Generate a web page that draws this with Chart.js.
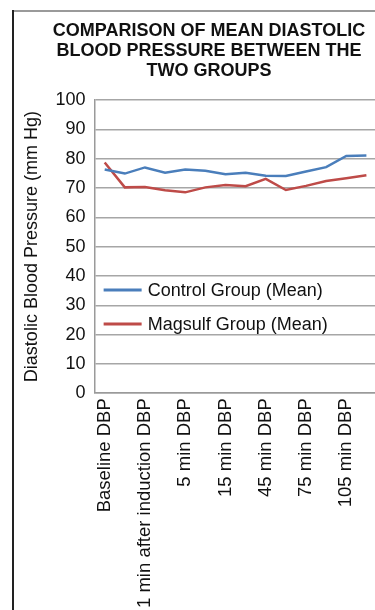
<!DOCTYPE html>
<html>
<head>
<meta charset="utf-8">
<script src="https://cdn.jsdelivr.net/npm/chart.js@4/dist/chart.umd.min.js"></script>
<style>
  html, body { margin: 0; padding: 0; background: #fff; overflow: hidden; }
  /* the original figure is cropped on the right, so the canvas is wider than the window */
  #wrap { position: relative; width: 375px; height: 610px; overflow: hidden; }
</style>
</head>
<body>
<div id="wrap"><canvas id="myChart" width="406" height="610"></canvas></div>
<script>
  // categories (only every other one gets a visible label, like the original)
  const categories = [
    'Baseline DBP', 'After induction DBP', '1 min after induction DBP', '3 min DBP',
    '5 min DBP', '10 min DBP', '15 min DBP', '30 min DBP', '45 min DBP',
    '60 min DBP', '75 min DBP', '90 min DBP', '105 min DBP', '120 min DBP'
  ];

  // series values
  const controlMean = [76.3, 74.9, 77.0, 75.2, 76.3, 75.9, 74.7, 75.2, 74.2, 74.1, 75.6, 77.1, 80.9, 81.1];
  const magsulfMean = [78.7, 70.2, 70.3, 69.2, 68.5, 70.2, 71.0, 70.6, 73.1, 69.3, 70.7, 72.4, 73.3, 74.3];

  const seriesNames = ['Control Group (Mean)', 'Magsulf Group (Mean)'];
  const colors = ['#4a7ebb', '#be4b48'];

  const titleLines = ['COMPARISON OF MEAN DIASTOLIC', 'BLOOD PRESSURE BETWEEN THE', 'TWO GROUPS'];
  const yTitle = 'Diastolic Blood Pressure (mm Hg)';

  const fontFamily = '"Liberation Sans", Arial, sans-serif';

  // outer frame of the original picture (left and top edges only, rest is cropped)
  const framePlugin = {
    id: 'frame',
    beforeDraw(chart) {
      const ctx = chart.ctx;
      ctx.save();
      ctx.strokeStyle = '#9a9a9a';
      ctx.lineWidth = 2;
      ctx.beginPath();
      ctx.moveTo(12, 11);
      ctx.lineTo(chart.width, 11);
      ctx.stroke();
      ctx.strokeStyle = '#222';
      ctx.beginPath();
      ctx.moveTo(13, 10);
      ctx.lineTo(13, chart.height);
      ctx.stroke();
      ctx.restore();
    }
  };

  // legend drawn inside the plot area, stacked
  const innerLegend = {
    id: 'innerLegend',
    afterDatasetsDraw(chart) {
      const ctx = chart.ctx;
      const area = chart.chartArea;
      ctx.save();
      ctx.font = '18px ' + fontFamily;
      ctx.textBaseline = 'middle';
      chart.data.datasets.forEach(function(ds, i) {
        const y = area.top + 190 + i * 34;
        const x = area.left + 9;
        ctx.strokeStyle = ds.borderColor;
        ctx.lineWidth = 3;
        ctx.beginPath();
        ctx.moveTo(x, y);
        ctx.lineTo(x + 38, y);
        ctx.stroke();
        ctx.fillStyle = '#111';
        ctx.fillText(ds.label, x + 44, y + 1);
      });
      ctx.restore();
    }
  };

  const chartdata = {
    labels: categories,
    datasets: [
      { label: seriesNames[0], data: controlMean, borderColor: colors[0], backgroundColor: colors[0] },
      { label: seriesNames[1], data: magsulfMean, borderColor: colors[1], backgroundColor: colors[1] }
    ]
  };

  const canvas = document.getElementById('myChart');
  const chart = new Chart(canvas, {
    type: 'line',
    data: chartdata,
    plugins: [framePlugin, innerLegend],
    options: {
      responsive: false,
      animation: false,
      layout: { padding: { left: 12, right: 0, top: 10, bottom: -3 } },
      elements: {
        line: { borderWidth: 2.5, tension: 0 },
        point: { radius: 0 }
      },
      plugins: {
        legend: { display: false },
        tooltip: { enabled: false },
        title: {
          display: true,
          text: titleLines,
          color: '#111',
          font: { family: fontFamily, size: 18, weight: 'bold', lineHeight: 1.12 },
          padding: { top: 11, bottom: 18.5 }
        }
      },
      scales: {
        x: {
          offset: true,
          grid: { display: false, drawTicks: false },
          border: { display: true, color: '#9a9a9a', width: 1.5 },
          ticks: {
            autoSkip: false,
            minRotation: 90,
            maxRotation: 90,
            padding: 5,
            color: '#111',
            // lineHeight only changes the right-hand gap here, labels are single lines
            font: { family: fontFamily, size: 18.5, lineHeight: 1.87 },
            callback: function(val, idx) { return idx % 2 === 0 ? this.getLabelForValue(val) : ''; }
          }
        },
        y: {
          min: 0,
          max: 100,
          grid: { color: '#a6a6a6', lineWidth: 1.5, drawTicks: false },
          border: { display: true, color: '#9a9a9a', width: 1.5 },
          ticks: {
            stepSize: 10,
            padding: 9,
            color: '#111',
            font: { family: fontFamily, size: 18 }
          },
          title: {
            display: true,
            text: yTitle,
            color: '#111',
            font: { family: fontFamily, size: 18 },
            padding: { top: 9, bottom: 4 }
          }
        }
      }
    }
  });
</script>
</body>
</html>
